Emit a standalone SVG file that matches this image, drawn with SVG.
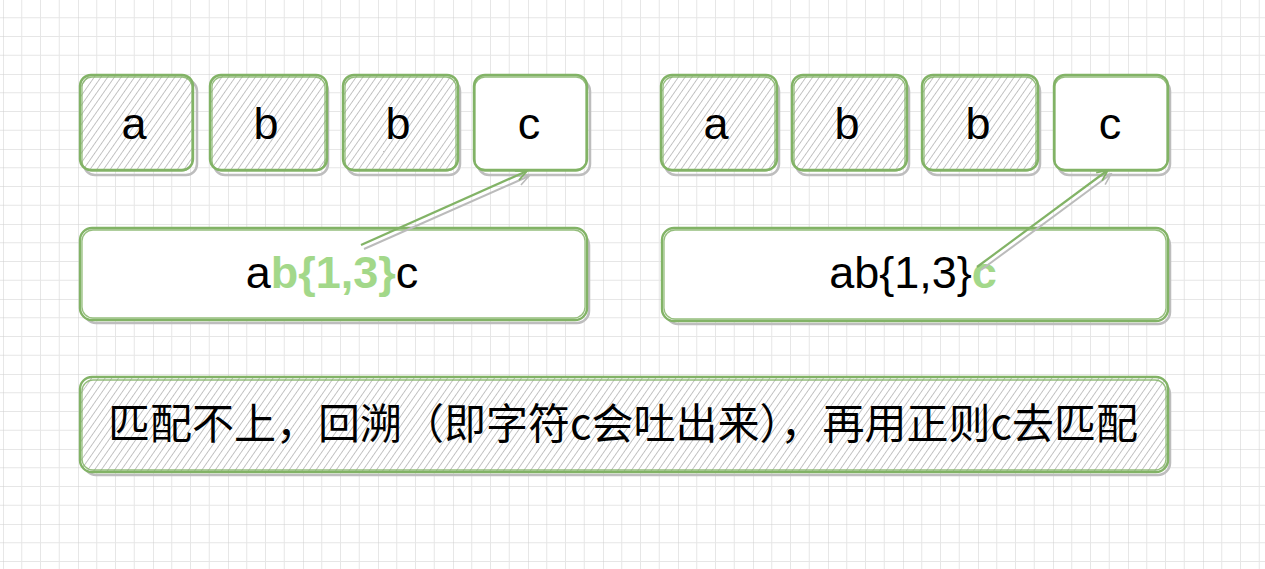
<svg xmlns="http://www.w3.org/2000/svg" width="1265" height="569" viewBox="0 0 1265 569">
<defs>
<pattern id="grid" x="3" y="-1" width="75" height="75" patternUnits="userSpaceOnUse">
<path d="M18.75 0V75M37.5 0V75M56.25 0V75M0 18.75H75M0 37.5H75M0 56.25H75" stroke="#e6e6e6" stroke-width="1" fill="none"/>
<path d="M0 0V75M0 0H75" stroke="#cfcfcf" stroke-width="1" fill="none"/>
</pattern>
<pattern id="hatch" width="5.5" height="6" patternUnits="userSpaceOnUse" patternTransform="rotate(35)">
<line x1="0" y1="0" x2="0" y2="6" stroke="#8a8a8a" stroke-width="1"/>
</pattern>
<marker id="arr" markerWidth="14" markerHeight="12" refX="12" refY="6" orient="auto" markerUnits="userSpaceOnUse">
<path d="M1 1 L12 6 L1 11" fill="none" stroke="#82b366" stroke-width="1.8"/>
</marker>
<marker id="arrs" markerWidth="14" markerHeight="12" refX="12" refY="6" orient="auto" markerUnits="userSpaceOnUse">
<path d="M1 1 L12 6 L1 11" fill="none" stroke="#bbbbbb" stroke-width="1.6"/>
</marker>
</defs>
<style>
.sh{fill:none;stroke:#bdbdbd;stroke-width:2.5}
.hf{fill:url(#hatch);stroke:none}
.wf{fill:#ffffff;stroke:none}
.g1{fill:none;stroke:#82b366;stroke-width:2.4}
.g2{fill:none;stroke:#82b366;stroke-width:1.3;opacity:0.85}
.t{font-family:"Liberation Sans",Arial,sans-serif;font-size:45px;fill:#000;text-anchor:middle}
.hl{fill:#a3d88a;font-weight:bold}
.cjk{font-family:"Noto Sans CJK SC","Liberation Sans",sans-serif;font-size:42px;fill:#000;text-anchor:middle}
.cl{fill:none;stroke:#82b366;stroke-width:2.2}
.cls{fill:none;stroke:#bbbbbb;stroke-width:2}
</style>
<rect width="1265" height="569" fill="#ffffff"/>
<rect width="1265" height="569" fill="url(#grid)"/>

<g id="n-a1">
<rect class="sh" x="84" y="80" width="113" height="95" rx="11"/>
<rect class="wf" x="80" y="75" width="113" height="96" rx="11"/>
<rect class="hf" x="80" y="75" width="113" height="96" rx="11"/>
<rect class="g1" x="80" y="75" width="113" height="95" rx="11"/>
<rect class="g2" x="82" y="77" width="110" height="94" rx="10"/>
<text class="t" x="134" y="139">a</text>
</g>
<g id="n-b1">
<rect class="sh" x="214" y="80" width="114" height="95" rx="11"/>
<rect class="wf" x="210" y="75" width="117" height="96" rx="11"/>
<rect class="hf" x="210" y="75" width="117" height="96" rx="11"/>
<rect class="g1" x="210" y="75" width="117" height="95" rx="11"/>
<rect class="g2" x="212" y="77" width="113" height="94" rx="10"/>
<text class="t" x="266" y="139">b</text>
</g>
<g id="n-b2">
<rect class="sh" x="347" y="80" width="113" height="95" rx="11"/>
<rect class="wf" x="343" y="75" width="115" height="96" rx="11"/>
<rect class="hf" x="343" y="75" width="115" height="96" rx="11"/>
<rect class="g1" x="343" y="75" width="115" height="95" rx="11"/>
<rect class="g2" x="345" y="77" width="111" height="94" rx="10"/>
<text class="t" x="398" y="139">b</text>
</g>
<g id="n-c1">
<rect class="sh" x="478" y="80" width="112" height="95" rx="11"/>
<rect class="wf" x="474" y="75" width="113" height="96" rx="11"/>
<rect class="g1" x="474" y="75" width="113" height="95" rx="11"/>
<rect class="g2" x="475" y="77" width="111" height="94" rx="10"/>
<text class="t" x="529" y="139">c</text>
</g>

<g id="n-a2">
<rect class="sh" x="665" y="80" width="114" height="95" rx="11"/>
<rect class="wf" x="661" y="75" width="116" height="96" rx="11"/>
<rect class="hf" x="661" y="75" width="116" height="96" rx="11"/>
<rect class="g1" x="661" y="75" width="116" height="95" rx="11"/>
<rect class="g2" x="663" y="77" width="112" height="94" rx="10"/>
<text class="t" x="716" y="139">a</text>
</g>
<g id="n-b3">
<rect class="sh" x="796" y="80" width="113" height="95" rx="11"/>
<rect class="wf" x="792" y="75" width="115" height="96" rx="11"/>
<rect class="hf" x="792" y="75" width="115" height="96" rx="11"/>
<rect class="g1" x="792" y="75" width="115" height="95" rx="11"/>
<rect class="g2" x="794" y="77" width="111" height="94" rx="10"/>
<text class="t" x="847" y="139">b</text>
</g>
<g id="n-b4">
<rect class="sh" x="926" y="80" width="114" height="95" rx="11"/>
<rect class="wf" x="922" y="75" width="116" height="96" rx="11"/>
<rect class="hf" x="922" y="75" width="116" height="96" rx="11"/>
<rect class="g1" x="922" y="75" width="116" height="95" rx="11"/>
<rect class="g2" x="924" y="77" width="112" height="94" rx="10"/>
<text class="t" x="978" y="139">b</text>
</g>
<g id="n-c2">
<rect class="sh" x="1058" y="80" width="112" height="95" rx="11"/>
<rect class="wf" x="1054" y="75" width="114" height="96" rx="11"/>
<rect class="g1" x="1054" y="75" width="114" height="95" rx="11"/>
<rect class="g2" x="1055" y="77" width="112" height="94" rx="10"/>
<text class="t" x="1110" y="139">c</text>
</g>

<g id="n-re1">
<rect class="sh" x="84" y="233" width="505" height="90" rx="12"/>
<rect class="wf" x="80" y="228" width="507" height="92" rx="12"/>
<rect class="g1" x="80" y="228" width="507" height="92" rx="12"/>
<rect class="g2" x="82" y="230" width="503" height="88" rx="11"/>
<text class="t" x="332" y="288">a<tspan class="hl">b{1,3}</tspan>c</text>
</g>
<g id="n-re2">
<rect class="sh" x="666" y="233" width="504" height="91" rx="12"/>
<rect class="wf" x="662" y="228" width="506" height="93" rx="12"/>
<rect class="g1" x="662" y="228" width="506" height="93" rx="12"/>
<rect class="g2" x="664" y="230" width="502" height="89" rx="11"/>
<text class="t" x="913" y="288">ab{1,3}<tspan class="hl">c</tspan></text>
</g>

<g id="n-note">
<rect class="sh" x="84" y="382" width="1086" height="93" rx="12"/>
<rect class="wf" x="80" y="377" width="1088" height="95" rx="12"/>
<rect class="hf" x="80" y="377" width="1088" height="95" rx="12"/>
<rect class="g1" x="80" y="377" width="1088" height="95" rx="12"/>
<rect class="g2" x="82" y="380" width="1084" height="90" rx="11"/>
<text class="cjk" x="623" y="439">匹配不上，回溯（即字符c会吐出来），再用正则c去匹配</text>
</g>

<g id="connectors">
<line class="cls" x1="364" y1="249" x2="529" y2="176" marker-end="url(#arrs)"/>
<line class="cl" x1="361" y1="245" x2="527" y2="171" marker-end="url(#arr)"/>
<line class="cls" x1="981" y1="270" x2="1111" y2="174" marker-end="url(#arrs)"/>
<line class="cl" x1="977" y1="267" x2="1108" y2="170" marker-end="url(#arr)"/>
</g>
</svg>
